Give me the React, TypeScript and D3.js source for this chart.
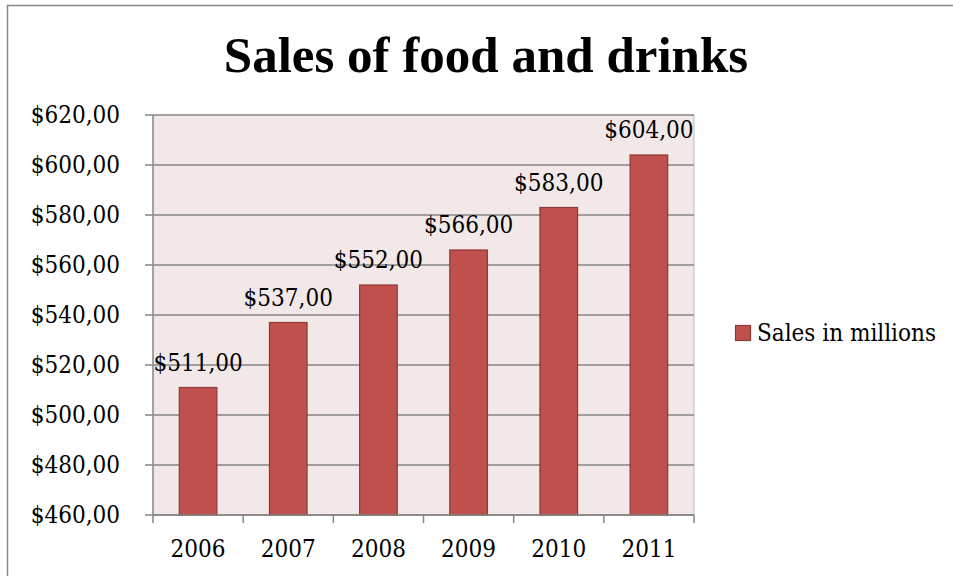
import React from "react";
import * as d3 from "d3";

const categories = ["2006", "2007", "2008", "2009", "2010", "2011"];
const sales = [511, 537, 552, 566, 583, 604];
const yTicks = [460, 480, 500, 520, 540, 560, 580, 600, 620];
const seriesName = "Sales in millions";
const title = "Sales of food and drinks";

const W = 953, H = 576;
const plot = { left: 153, right: 694, top: 115, bottom: 515 };
const fmt = (v: number) => "$" + v.toFixed(2).replace(".", ",");

export default function App() {
  const x = d3.scaleBand().domain(categories).range([plot.left, plot.right]).paddingInner(0.5833).paddingOuter(0.2917);
  const xb = d3.scaleBand().domain(categories).range([plot.left, plot.right]);
  const y = d3.scaleLinear().domain([460, 620]).range([plot.bottom, plot.top]);
  const serif = "'DejaVu Serif Condensed', 'DejaVu Serif', serif";
  const fs = 24;
  return (
    <svg width={W} height={H} style={{ position: "absolute", left: 0, top: 0, background: "#fff" }}>
      <path d={`M7.5,${H + 5} V5.5 H${W + 5}`} fill="none" stroke="#868686" strokeWidth={1.5} />
      <text x={486} y={72} textAnchor="middle" fontFamily="'Liberation Serif', serif" fontWeight="bold" fontSize={51} fill="#000">{title}</text>
      <rect x={plot.left} y={plot.top} width={plot.right - plot.left} height={plot.bottom - plot.top} fill="#F2E8E8" />
      {yTicks.map(t => (
        <g key={t}>
          <line x1={plot.left - 8} x2={plot.right} y1={y(t)} y2={y(t)} stroke="#868686" strokeWidth={1.5} />
          <text x={120} y={y(t)} dy="0.35em" textAnchor="end" fontFamily={serif} fontSize={fs} fill="#000">{fmt(t)}</text>
        </g>
      ))}
      <line x1={plot.left} x2={plot.left} y1={plot.top} y2={plot.bottom} stroke="#868686" strokeWidth={1.5} />
      <line x1={plot.right} x2={plot.right} y1={plot.top} y2={plot.bottom} stroke="#868686" strokeWidth={1} opacity={0.5} />
      {categories.map((c, i) => (
        <g key={c}>
          <rect x={x(c)!} y={y(sales[i])} width={x.bandwidth()} height={plot.bottom - y(sales[i])} fill="#C0504D" stroke="#8C3836" strokeWidth={1.2} />
          <text x={x(c)! + x.bandwidth() / 2} y={y(sales[i]) - 17} textAnchor="middle" fontFamily={serif} fontSize={fs} fill="#000">{fmt(sales[i])}</text>
          <text x={xb(c)! + xb.bandwidth() / 2} y={557} textAnchor="middle" fontFamily={serif} fontSize={fs} fill="#000">{c}</text>
        </g>
      ))}
      <line x1={plot.left} x2={plot.right} y1={plot.bottom} y2={plot.bottom} stroke="#868686" strokeWidth={1.5} />
      {[...categories.map(c => xb(c)!), plot.right].map((v, i) => (
        <line key={i} x1={v} x2={v} y1={plot.bottom} y2={plot.bottom + 8} stroke="#868686" strokeWidth={1.5} />
      ))}
      <rect x={735.5} y={325.5} width={15} height={15} fill="#C0504D" stroke="#8C3836" strokeWidth={1.2} />
      <text x={757} y={341} fontFamily={serif} fontSize={fs} fill="#000">{seriesName}</text>
    </svg>
  );
}
